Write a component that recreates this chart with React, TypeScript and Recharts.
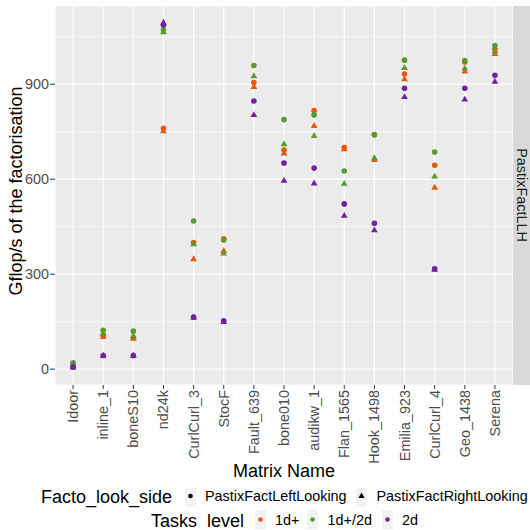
import React from "react";
import {
  ScatterChart,
  Scatter,
  XAxis,
  YAxis,
  CartesianGrid,
} from "recharts";

const categories = [
  "Idoor",
  "inline_1",
  "boneS10",
  "nd24k",
  "CurlCurl_3",
  "StocF",
  "Fault_639",
  "bone010",
  "audikw_1",
  "Flan_1565",
  "Hook_1498",
  "Emilia_923",
  "CurlCurl_4",
  "Geo_1438",
  "Serena",
];

// PastixFactLeftLooking (circles)
const leftD1 = [14, 107, 100, 761, 400, 412, 905, 692, 817, 700, 740, 932, 644, 970, 1010];
const leftD12 = [20, 123, 120, 1072, 468, 408, 959, 788, 803, 626, 741, 976, 686, 975, 1022];
const leftD2 = [7, 43, 43, 1087, 165, 153, 847, 651, 635, 522, 461, 887, 317, 887, 928];

// PastixFactRightLooking (triangles)
const rightD1 = [12, 102, 97, 752, 348, 374, 892, 682, 769, 695, 661, 916, 574, 941, 996];
const rightD12 = [16, 113, 104, 1065, 395, 366, 926, 711, 737, 586, 667, 952, 609, 950, 1005];
const rightD2 = [6, 43, 43, 1095, 163, 150, 803, 596, 587, 485, 439, 860, 315, 852, 908];

const yTicks = [0, 300, 600, 900];
const yMinor = [150, 450, 750, 1050];

const levels = ["1d+", "1d+/2d", "2d"];
const sides = ["PastixFactLeftLooking", "PastixFactRightLooking"];

const COLORS: Record<string, string> = {
  "1d+": "#e8580c",
  "1d+/2d": "#5a9a2e",
  "2d": "#7222a0",
};

const FONT = "'Liberation Sans', Arial, Helvetica, sans-serif";

const toPoints = (vals: number[]) => vals.map((v, i) => ({ x: i, y: v }));

const makeCircle = (color: string) => (props: any) => {
  const { cx, cy } = props;
  if (cx == null || cy == null) return <g />;
  return <circle cx={cx} cy={cy} r={2.8} fill={color} />;
};

const makeTriangle = (color: string) => (props: any) => {
  const { cx, cy } = props;
  if (cx == null || cy == null) return <g />;
  const pts = `${cx},${cy - 3.7} ${cx - 3.4},${cy + 2.2} ${cx + 3.4},${cy + 2.2}`;
  return <polygon points={pts} fill={color} />;
};

function XTick(props: any) {
  const { x, y, payload } = props;
  return (
    <text
      x={x}
      y={y}
      transform={`rotate(-90 ${x} ${y})`}
      textAnchor="end"
      dominantBaseline="central"
      fill="#4d4d4d"
      fontSize={14.4}
      fontFamily={FONT}
    >
      {categories[payload.value]}
    </text>
  );
}

const series = [
  { key: "l1", data: leftD1, level: "1d+", shape: "circle" },
  { key: "r1", data: rightD1, level: "1d+", shape: "triangle" },
  { key: "l12", data: leftD12, level: "1d+/2d", shape: "circle" },
  { key: "r12", data: rightD12, level: "1d+/2d", shape: "triangle" },
  { key: "l2", data: leftD2, level: "2d", shape: "circle" },
  { key: "r2", data: rightD2, level: "2d", shape: "triangle" },
];

export default function App() {
  return (
    <div
      style={{
        position: "absolute",
        top: 0,
        left: 0,
        width: 530,
        height: 530,
        background: "#fff",
        fontFamily: FONT,
      }}
    >
      <ScatterChart
        width={530}
        height={530}
        margin={{ top: 6, right: 17, left: 0, bottom: 0 }}
      >
        <CartesianGrid
          fill="#ebebeb"
          stroke="#ffffff"
          strokeWidth={0.6}
          vertical={false}
          horizontalValues={yMinor}
        />
        <CartesianGrid stroke="#ffffff" strokeWidth={1.2} fill="none" />
        <XAxis
          type="number"
          dataKey="x"
          domain={[-0.6, 14.6]}
          ticks={categories.map((_, i) => i)}
          interval={0}
          allowDataOverflow
          axisLine={false}
          tickLine={{ stroke: "#333333" }}
          tickSize={4}
          tickMargin={1}
          height={145}
          tick={<XTick />}
        />
        <YAxis
          type="number"
          dataKey="y"
          domain={[-50, 1147]}
          ticks={yTicks}
          allowDataOverflow
          axisLine={false}
          tickLine={{ stroke: "#333333" }}
          tickSize={5}
          tickMargin={1}
          width={55}
          tick={{ fill: "#4d4d4d", fontSize: 14.4, fontFamily: FONT }}
        />
        {series.map((s) => (
          <Scatter
            key={s.key}
            data={toPoints(s.data)}
            fill={COLORS[s.level]}
            shape={
              s.shape === "circle"
                ? makeCircle(COLORS[s.level])
                : makeTriangle(COLORS[s.level])
            }
            isAnimationActive={false}
          />
        ))}
      </ScatterChart>

      <svg
        width={530}
        height={530}
        style={{ position: "absolute", top: 0, left: 0, pointerEvents: "none" }}
        fontFamily={FONT}
      >
        {/* facet strip */}
        <rect x={513} y={6} width={17} height={379} fill="#d9d9d9" />
        <text
          x={517}
          y={195}
          transform="rotate(90 517 195)"
          textAnchor="middle"
          fontSize={14.4}
          fill="#1a1a1a"
        >
          PastixFactLLH
        </text>

        {/* axis titles */}
        <text
          x={22}
          y={191}
          transform="rotate(-90 22 191)"
          textAnchor="middle"
          fontSize={18}
          fill="#000"
        >
          Gflop/s of the factorisation
        </text>
        <text x={284} y={476.5} textAnchor="middle" fontSize={18} fill="#000">
          Matrix Name
        </text>

        {/* legend: shape */}
        <text x={41} y={503.3} fontSize={18} fill="#000">
          Facto_look_side
        </text>
        <rect x={185} y={488} width={11} height={19} fill="#f2f2f2" />
        <circle cx={190.5} cy={496} r={2.3} fill="#000" />
        <text x={205} y={500.5} fontSize={14.4} fill="#000">
          {sides[0]}
        </text>
        <rect x={356} y={488} width={11} height={19} fill="#f2f2f2" />
        <polygon points="361.5,492.5 358.4,498 364.6,498" fill="#000" />
        <text x={376.5} y={500.5} fontSize={14.4} fill="#000">
          {sides[1]}
        </text>

        {/* legend: colour */}
        <text x={151} y={526.7} fontSize={18} fill="#000">
          Tasks_level
        </text>
        <rect x={255} y={510} width={11} height={19} fill="#f2f2f2" />
        <circle cx={260.5} cy={519.5} r={2.3} fill={COLORS[levels[0]]} />
        <text x={275} y={525} fontSize={14.4} fill="#000">
          {levels[0]}
        </text>
        <rect x={307} y={510} width={11} height={19} fill="#f2f2f2" />
        <circle cx={312.5} cy={519.5} r={2.3} fill={COLORS[levels[1]]} />
        <text x={327.5} y={525} fontSize={14.4} fill="#000">
          {levels[1]}
        </text>
        <rect x={382} y={510} width={11} height={19} fill="#f2f2f2" />
        <circle cx={387.5} cy={519.5} r={2.3} fill={COLORS[levels[2]]} />
        <text x={402} y={525} fontSize={14.4} fill="#000">
          {levels[2]}
        </text>
      </svg>
    </div>
  );
}
